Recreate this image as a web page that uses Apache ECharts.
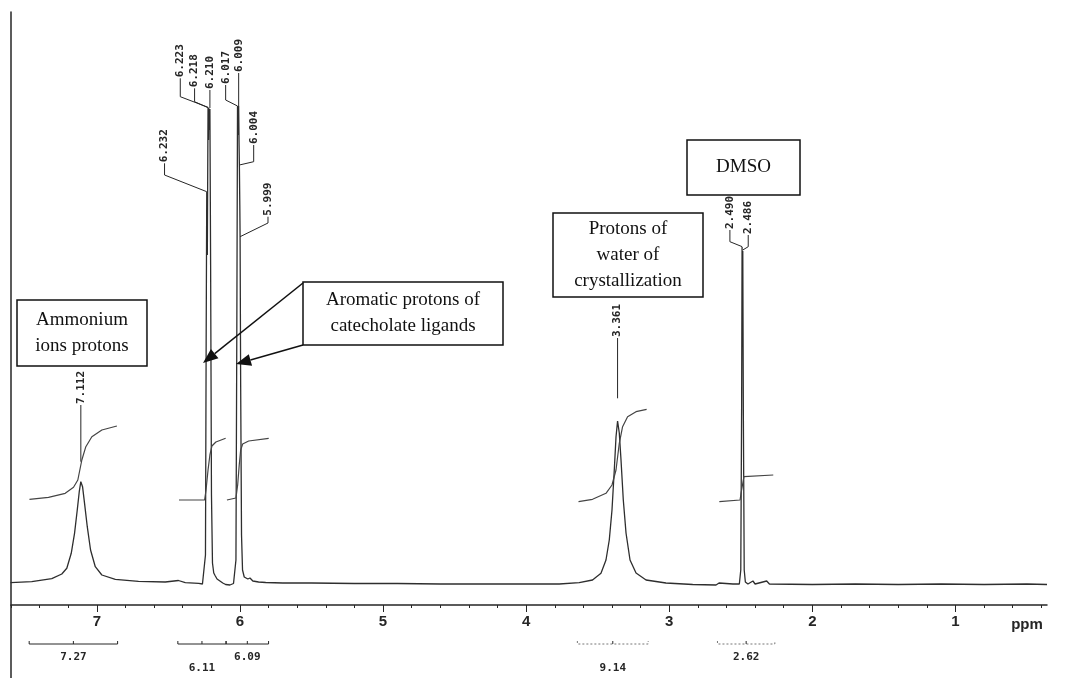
<!DOCTYPE html>
<html>
<head>
<meta charset="utf-8">
<script src="https://cdn.jsdelivr.net/npm/echarts@6.0.0/dist/echarts.min.js"></script>
<style>
html, body { margin: 0; padding: 0; background: #fff; }
#main { width: 1087px; height: 678px; }
</style>
</head>
<body>
<div id="main"></div>
<script>
// 1H NMR trace, [ppm, intensity]
var spectrum = [
  [7.603, 2.3], [7.455, 3.3], [7.315, 6.3], [7.245, 11], [7.210, 16.7], [7.179, 31.7],
  [7.156, 51.7], [7.137, 75], [7.123, 93.3], [7.112, 103.3], [7.100, 98.3], [7.086, 81.7],
  [7.067, 58.3], [7.044, 35], [7.011, 18.3], [6.965, 10], [6.871, 5.7], [6.709, 3.7],
  [6.522, 3], [6.430, 4.5], [6.417, 3.3], [6.382, 2.3], [6.288, 1.7],
  [6.262, 1], [6.250, 3], [6.241, 30], [6.236, 250], [6.232, 393], [6.228, 330],
  [6.223, 477], [6.220, 445], [6.218, 477], [6.214, 455], [6.210, 476], [6.205, 320],
  [6.199, 90], [6.192, 22], [6.183, 12], [6.172, 9], [6.160, 6], [6.140, 4], [6.120, 2],
  [6.100, 0.5], [6.070, 0], [6.045, 1.5],
  [6.036, 3], [6.028, 25], [6.022, 250], [6.017, 479], [6.013, 450], [6.009, 479],
  [6.006, 440], [6.004, 420], [6.001, 380], [5.999, 348], [5.995, 200], [5.989, 50],
  [5.982, 15], [5.970, 8], [5.958, 9], [5.945, 6], [5.930, 7], [5.910, 4], [5.870, 3],
  [5.820, 2.5], [5.700, 2], [5.500, 2], [5.200, 1.5], [4.900, 1.5], [4.600, 1],
  [4.300, 1], [4.000, 1.2],
  [3.769, 1], [3.629, 2.3], [3.536, 5], [3.477, 11.7], [3.442, 25], [3.419, 45],
  [3.400, 75], [3.384, 115], [3.372, 148], [3.361, 164], [3.349, 152], [3.337, 125],
  [3.321, 85], [3.302, 52], [3.274, 25], [3.232, 12], [3.162, 5], [3.023, 2],
  [2.836, 0.5], [2.673, 0], [2.652, 2], [2.640, 0], [2.555, 1],
  [2.510, 1], [2.500, 15], [2.494, 180], [2.491, 338], [2.489, 300], [2.486, 334], [2.482, 170],
  [2.476, 15], [2.468, 3], [2.450, 1], [2.415, 4], [2.400, 1], [2.319, 4], [2.300, 1],
  [2.000, 0.5], [1.700, 1], [1.400, 0.5], [1.100, 1], [0.800, 0.5], [0.500, 1], [0.360, 0.5]
];

// integral curves
var integralNH4 = [[7.471, 85.7], [7.338, 87.7], [7.221, 91.7], [7.163, 97.7], [7.133, 105],
  [7.105, 125], [7.077, 138.3], [7.035, 148.3], [6.965, 155], [6.860, 159]];
var integralArA = [[6.426, 85], [6.247, 85], [6.237, 95], [6.223, 115], [6.210, 130],
  [6.196, 139], [6.168, 143], [6.100, 146.7]];
var integralArB = [[6.091, 85], [6.028, 87], [6.016, 100], [6.005, 120], [5.995, 135],
  [5.981, 141], [5.939, 144], [5.799, 146.7]];
var integralH2O = [[3.634, 83.3], [3.536, 85.7], [3.442, 91.7], [3.400, 100], [3.372, 115],
  [3.349, 141.7], [3.326, 158.3], [3.291, 168.3], [3.232, 173.3], [3.158, 175.7]];
var integralDMSO = [[2.650, 83.3], [2.505, 85], [2.498, 92], [2.488, 100], [2.478, 108.3],
  [2.273, 110]];

// integration ranges under the axis and their values
var integralRanges = [[7.473, 6.855], [6.434, 6.097], [6.097, 5.800], [3.642, 3.147], [2.663, 2.262]];
var integralValues = ['7.27', '6.11', '6.09', '9.14', '2.62'];

// picked peaks
var peakShifts = [6.232, 6.223, 6.218, 6.210, 6.017, 6.009, 6.004, 5.999, 7.112, 3.361, 2.490, 2.486];

var majorTicks = [1, 2, 3, 4, 5, 6, 7];

// layout: label x (ppm), text bottom, bend, leader tip (intensity units)
var peakLabelLayout = [
  [6.527, 421.7, 410, 393.3],
  [6.417, 506.7, 488.3, 477.7],
  [6.317, 496.7, 483.3, 477],
  [6.210, 495, 495, 477],
  [6.100, 500, 485, 479],
  [6.009, 512, 512, 479],
  [5.904, 440, 423.3, 420],
  [5.804, 368.3, 362, 348.3],
  [7.112, 180, 180, 123.3],
  [3.361, 247, 247, 186.7],
  [2.576, 355, 343.3, 338.3],
  [2.448, 350, 338.3, 335]
];
var bracketRow = [0, 1, 0, 1, 0];
var bracketDotted = [false, false, false, true, true];

var minorTicks = [];
for (var t = 2; t <= 38; t++) minorTicks.push(t / 5);

var ink = '#262626';
var chart = echarts.init(document.getElementById('main'));

function renderPeakLabel(params, api) {
  var i = params.dataIndex;
  var lay = peakLabelLayout[i];
  var base = api.coord([lay[0], lay[1]]);
  var bend = api.coord([lay[0], lay[2]]);
  var tip = api.coord([peakShifts[i], lay[3]]);
  return {
    type: 'group',
    children: [{
      type: 'polyline',
      shape: { points: [base, bend, tip] },
      style: { stroke: ink, lineWidth: 1, fill: 'none' }
    }, {
      type: 'text',
      x: base[0], y: base[1] - 1,
      rotation: Math.PI / 2,
      style: {
        text: peakShifts[i].toFixed(3), x: 0, y: 0,
        align: 'left', verticalAlign: 'middle',
        font: 'bold 11px "DejaVu Sans Mono"', fill: ink
      }
    }]
  };
}

function renderBracket(params, api) {
  var i = params.dataIndex;
  var r = integralRanges[i];
  var p1 = api.coord([r[0], -59]);
  var p2 = api.coord([r[1], -59]);
  var mid = (p1[0] + p2[0]) / 2;
  return {
    type: 'group',
    children: [{
      type: 'polyline',
      shape: { points: [[p1[0], p1[1] - 3], p1, p2, [p2[0], p2[1] - 3]] },
      style: { stroke: bracketDotted[i] ? '#777' : ink, lineWidth: 1, fill: 'none',
        lineDash: bracketDotted[i] ? [2, 2] : null }
    }, {
      type: 'line',
      shape: { x1: mid, y1: p1[1], x2: mid, y2: p1[1] - 3 },
      style: { stroke: ink, lineWidth: 1 }
    }, {
      type: 'text',
      x: mid, y: p1[1] + 13 + bracketRow[i] * 11,
      style: {
        text: integralValues[i], align: 'center', verticalAlign: 'middle',
        font: 'bold 11px "DejaVu Sans Mono"', fill: ink
      }
    }]
  };
}

function box(x, y, w, h, text) {
  return [{
    type: 'rect', shape: { x: x, y: y, width: w, height: h },
    style: { fill: '#fff', stroke: '#111', lineWidth: 1.5 }, z: 10
  }, {
    type: 'text', x: x + w / 2, y: y + h / 2, z: 11,
    style: {
      text: text, align: 'center', verticalAlign: 'middle', lineHeight: 26,
      font: '19px "Liberation Serif"', fill: '#111'
    }
  }];
}

function arrow(x1, y1, x2, y2) {
  var a = Math.atan2(y2 - y1, x2 - x1), L = 15, W = 6;
  var bx = x2 - L * Math.cos(a), by = y2 - L * Math.sin(a);
  return [{
    type: 'line', z: 12, shape: { x1: x1, y1: y1, x2: bx, y2: by },
    style: { stroke: '#111', lineWidth: 1.5 }
  }, {
    type: 'polygon', z: 12,
    shape: { points: [[x2, y2],
      [bx + W * Math.sin(a), by - W * Math.cos(a)],
      [bx - W * Math.sin(a), by + W * Math.cos(a)]] },
    style: { fill: '#111' }
  }];
}

var graphics = []
  .concat(box(17, 300, 130, 66, 'Ammonium\nions protons'))
  .concat(box(303, 282, 200, 63, 'Aromatic protons of\ncatecholate ligands'))
  .concat(box(553, 213, 150, 84, 'Protons of\nwater of\ncrystallization'))
  .concat(box(687, 140, 113, 55, 'DMSO'))
  .concat(arrow(303, 283, 203, 363))
  .concat(arrow(303, 345, 236, 364))
  .concat([{
    type: 'line', shape: { x1: 11, y1: 605, x2: 11, y2: 678 },
    style: { stroke: ink, lineWidth: 1.5 }
  }, {
    type: 'text', x: 1027, y: 625,
    style: { text: 'ppm', align: 'center', verticalAlign: 'middle',
      font: 'bold 15px "Liberation Sans"', fill: ink }
  }]);

var lineBase = { type: 'line', showSymbol: false, smooth: false, silent: true };

function integralSeries(data) {
  return Object.assign({}, lineBase, {
    data: data, lineStyle: { color: '#444', width: 1.2 }
  });
}

chart.setOption({
  animation: false,
  backgroundColor: '#fff',
  grid: { left: 11, right: 40, top: 12, bottom: 73 },
  xAxis: [{
    type: 'value', inverse: true, min: 0.36, max: 7.60,
    axisLine: { onZero: false, lineStyle: { color: ink, width: 1.5 } },
    axisTick: { customValues: majorTicks, length: 7, lineStyle: { color: ink } },
    axisLabel: { customValues: majorTicks, margin: 9, color: ink,
      fontFamily: 'Liberation Sans', fontWeight: 'bold', fontSize: 15 },
    splitLine: { show: false }
  }, {
    type: 'value', inverse: true, min: 0.36, max: 7.60, position: 'bottom',
    axisLine: { show: false, onZero: false },
    axisTick: { customValues: minorTicks, length: 3, lineStyle: { color: ink } },
    axisLabel: { show: false },
    splitLine: { show: false }
  }],
  yAxis: {
    type: 'value', min: -20, max: 573,
    axisLine: { show: true, onZero: false, lineStyle: { color: ink, width: 1.5 } },
    axisTick: { show: false }, axisLabel: { show: false }, splitLine: { show: false }
  },
  series: [
    Object.assign({}, lineBase, { data: spectrum, lineStyle: { color: '#2e2e2e', width: 1.3 } }),
    integralSeries(integralNH4),
    integralSeries(integralArA),
    integralSeries(integralArB),
    integralSeries(integralH2O),
    integralSeries(integralDMSO),
    {
      type: 'custom', clip: false, silent: true,
      data: peakShifts.map(function (p, i) { return [p, peakLabelLayout[i][3]]; }),
      renderItem: renderPeakLabel
    },
    {
      type: 'custom', clip: false, silent: true,
      data: integralRanges.map(function (r) { return [r[0], -59]; }),
      renderItem: renderBracket
    }
  ],
  graphic: graphics
});
</script>
</body>
</html>
